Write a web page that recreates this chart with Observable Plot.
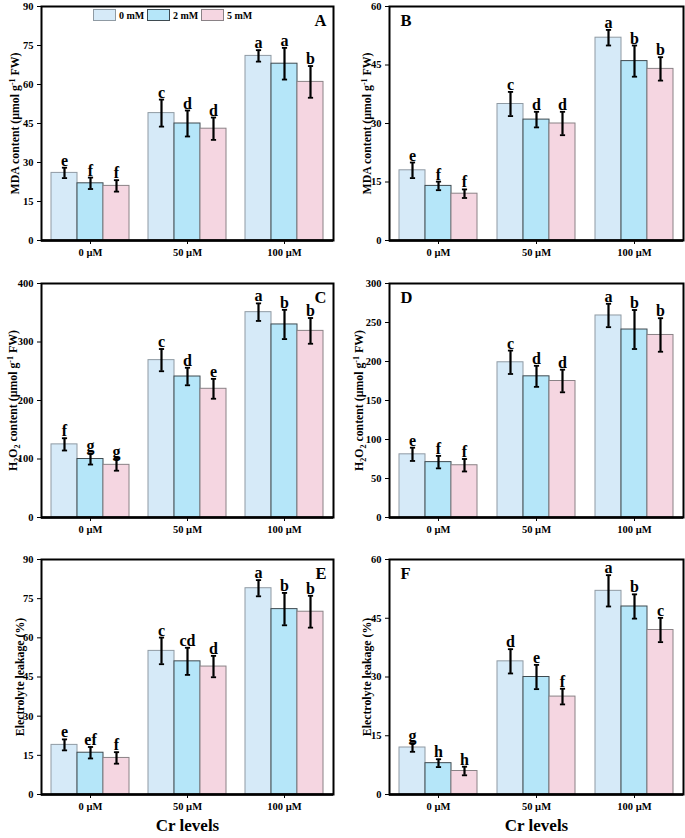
<!DOCTYPE html>
<html>
<head>
<meta charset="utf-8">
<script src="https://cdn.jsdelivr.net/npm/d3@7"></script>
<script src="https://cdn.jsdelivr.net/npm/@observablehq/plot@0.6"></script>
<style>
  html, body { margin: 0; padding: 0; background: #fff; }
  #wrap { position: relative; width: 685px; height: 838px; overflow: hidden; font-family: "Liberation Serif", "Times New Roman", serif; }
  .panel { position: absolute; }
  .legend { position: absolute; left: 93px; top: 9px; display: flex; align-items: center; font-weight: bold; font-size: 10px; line-height: 11px; }
  .legend .sw { width: 21px; height: 10px; border: 1px solid #888; margin-right: 3px; box-sizing: content-box; }
  .legend .it { display: flex; align-items: center; }
  .legend .lb { width: 28px; }
</style>
</head>
<body>
<div id="wrap"></div>
<script>
// ---------- data ----------
const levels = ["0 µM", "50 µM", "100 µM"];
const treatments = ["0 mM", "2 mM", "5 mM"];
const fills = ["#d6eaf8", "#b5e6f9", "#f5d6e1"];
const strokes = ["#8f9aa3", "#3e4a50", "#8a8286"];

const mdaLeafMean = [26, 22, 21, 49, 45, 43, 71, 68, 61];
const mdaLeafSd = [2, 2.2, 2.2, 5.2, 5, 4.3, 2.2, 6.1, 6.1];
const mdaLeafLetters = ["e", "f", "f", "c", "d", "d", "a", "a", "b"];
const mdaLeafTicks = [0, 15, 30, 45, 60, 75, 90];

const mdaRootMean = [18, 14, 12, 35, 31, 30, 52, 46, 44];
const mdaRootSd = [2, 1.1, 1.1, 3.1, 2, 3, 2, 4, 3];
const mdaRootLetters = ["e", "f", "f", "c", "d", "d", "a", "b", "b"];
const mdaRootTicks = [0, 15, 30, 45, 60];

const h2o2LeafMean = [125, 100, 90, 269, 241, 220, 351, 330, 319];
const h2o2LeafSd = [10.5, 9.5, 10, 19, 15, 17, 15, 25, 22];
const h2o2LeafLetters = ["f", "g", "g", "c", "d", "e", "a", "b", "b"];
const h2o2LeafTicks = [0, 100, 200, 300, 400];

const h2o2RootMean = [81, 71, 67, 199, 181, 175, 259, 241, 234];
const h2o2RootSd = [8.5, 8, 8, 15, 13.5, 14.5, 15, 25, 21.5];
const h2o2RootLetters = ["e", "f", "f", "c", "d", "d", "a", "b", "b"];
const h2o2RootTicks = [0, 50, 100, 150, 200, 250, 300];

const elLeafMean = [19, 16, 14, 55, 51, 49, 79, 71, 70];
const elLeafSd = [2.1, 2.2, 2.2, 5.1, 5.2, 4.1, 3.1, 6.2, 6.1];
const elLeafLetters = ["e", "ef", "f", "c", "cd", "d", "a", "b", "b"];
const elLeafTicks = [0, 15, 30, 45, 60, 75, 90];

const elRootMean = [12, 8, 6, 34, 30, 25, 52, 48, 42];
const elRootSd = [1.1, 1, 1.1, 3.1, 3.1, 2, 4, 3.1, 3.1];
const elRootLetters = ["g", "h", "h", "d", "e", "f", "a", "b", "c"];
const elRootTicks = [0, 15, 30, 45, 60];

const mdaLabel = "MDA content (µmol g^{-1} FW)";
const h2o2Label = "H_{2}O_{2} content (µmol g^{-1} FW)";
const elLabel = "Electrolyte leakage (%)";
const xTitle = "Cr levels";

// ---------- helpers ----------
function plain(markup) { return markup.replace(/[\^_]\{([^}]*)\}/g, "$1"); }

function richify(svg, markup) {
  const txt = plain(markup);
  const NS = "http://www.w3.org/2000/svg";
  svg.querySelectorAll("text").forEach(t => {
    if (t.textContent !== txt) return;
    while (t.firstChild) t.removeChild(t.firstChild);
    const re = /([\^_])\{([^}]*)\}|([^\^_]+)/g;
    let m, pending = 0;
    while ((m = re.exec(markup))) {
      const ts = document.createElementNS(NS, "tspan");
      if (m[3]) {
        ts.textContent = m[3];
        if (pending) ts.setAttribute("dy", String(pending));
        pending = 0;
      } else {
        const shift = m[1] === "^" ? -4.5 : 3;
        ts.textContent = m[2];
        ts.setAttribute("font-size", "8");
        ts.setAttribute("dy", String(shift + pending));
        pending = -shift;
      }
      t.appendChild(ts);
    }
  });
}

const capSymbol = {
  draw(ctx, size) {
    const w = Math.sqrt(size / Math.PI);
    ctx.moveTo(-w, 0);
    ctx.lineTo(w, 0);
  }
};

function panel(o) {
  const data = levels.flatMap((l, i) => treatments.map((t, j) => ({
    level: l, treat: t, j,
    mean: o.mean[i * 3 + j], sd: o.sd[i * 3 + j], letter: o.letters[i * 3 + j]
  })));
  const BW = 26;
  const marks = [];
  treatments.forEach((t, j) => {
    const sub = data.filter(d => d.j === j);
    const off = (j - 1) * BW;
    marks.push(Plot.barY(sub, {x: "level", y: "mean", fill: fills[j], stroke: strokes[j], strokeWidth: 1,
      insetLeft: j * BW, insetRight: (2 - j) * BW}));
    marks.push(Plot.ruleX(sub, {x: "level", y1: d => d.mean - d.sd, y2: d => d.mean + d.sd, dx: off, stroke: "black", strokeWidth: 2.2}));
    marks.push(Plot.dot(sub, {x: "level", y: d => d.mean + d.sd, dx: off, symbol: capSymbol, r: 2.6, fill: "none", stroke: "black", strokeWidth: 1.8}));
    marks.push(Plot.dot(sub, {x: "level", y: d => d.mean - d.sd, dx: off, symbol: capSymbol, r: 2.6, fill: "none", stroke: "black", strokeWidth: 1.8}));
    marks.push(Plot.text(sub, {x: "level", y: d => d.mean + d.sd, text: "letter", dx: off, dy: -2, lineAnchor: "bottom",
      fontSize: 16, fontWeight: "bold", fill: "black"}));
  });
  marks.push(Plot.frame({stroke: "black", strokeWidth: 2}));
  marks.push(Plot.ruleY([0], {stroke: "black", strokeWidth: 2.5}));
  marks.push(Plot.text([plain(o.ylabel)], {text: d => d, frameAnchor: "left", rotate: -90, dx: -o.labelOffset,
    textAnchor: "middle", lineAnchor: "middle", fontSize: 11.8, fontWeight: "bold", fill: "black"}));
  marks.push(Plot.text([o.tag], {text: d => d, frameAnchor: o.tagAnchor, dx: o.tagAnchor === "top-right" ? -7 : 11,
    dy: 8, lineAnchor: "top", textAnchor: o.tagAnchor === "top-right" ? "end" : "start",
    fontSize: 16.5, fontWeight: "bold", fill: "black"}));
  if (o.xlabel) {
    marks.push(Plot.text([o.xlabel], {text: d => d, frameAnchor: "bottom", dy: 31, lineAnchor: "middle",
      fontSize: 17, fontWeight: "bold", fill: "black"}));
  }
  const svg = Plot.plot({
    width: o.width, height: o.height,
    marginLeft: o.mL, marginRight: o.mR, marginTop: o.mT, marginBottom: o.mB,
    style: {fontFamily: "'Liberation Serif', 'Times New Roman', serif", fontWeight: "bold", fontSize: "10.5px", color: "black", background: "transparent", overflow: "visible"},
    x: {domain: levels, paddingInner: 0.2, paddingOuter: 0.1, label: null, tickSize: 4, tickPadding: 4},
    y: {domain: [0, o.ticks[o.ticks.length - 1]], ticks: o.ticks, label: null, tickSize: 4, tickPadding: 4, tickFormat: d => String(d)},
    marks
  });
  richify(svg, o.ylabel);
  const div = document.createElement("div");
  div.className = "panel";
  div.style.left = o.left + "px";
  div.style.top = o.top + "px";
  div.appendChild(svg);
  document.getElementById("wrap").appendChild(div);
}

const colA = {left: 0, width: 340, mL: 41, mR: 7};
const colB = {left: 340, width: 345, mL: 49, mR: 2};
const row1 = {top: 0, height: 265, mT: 6, mB: 25};
const row2 = {top: 265, height: 275, mT: 18, mB: 23};
const row3 = {top: 540, height: 298, mT: 19, mB: 44};

panel({...colA, ...row1, mean: mdaLeafMean, sd: mdaLeafSd, letters: mdaLeafLetters, ticks: mdaLeafTicks, ylabel: mdaLabel, labelOffset: 26, tag: "A", tagAnchor: "top-right"});
panel({...colB, ...row1, mean: mdaRootMean, sd: mdaRootSd, letters: mdaRootLetters, ticks: mdaRootTicks, ylabel: mdaLabel, labelOffset: 22, tag: "B", tagAnchor: "top-left"});
panel({...colA, ...row2, mean: h2o2LeafMean, sd: h2o2LeafSd, letters: h2o2LeafLetters, ticks: h2o2LeafTicks, ylabel: h2o2Label, labelOffset: 28, tag: "C", tagAnchor: "top-right"});
panel({...colB, ...row2, mean: h2o2RootMean, sd: h2o2RootSd, letters: h2o2RootLetters, ticks: h2o2RootTicks, ylabel: h2o2Label, labelOffset: 30, tag: "D", tagAnchor: "top-left"});
panel({...colA, ...row3, mean: elLeafMean, sd: elLeafSd, letters: elLeafLetters, ticks: elLeafTicks, ylabel: elLabel, labelOffset: 21, tag: "E", tagAnchor: "top-right", xlabel: xTitle});
panel({...colB, ...row3, mean: elRootMean, sd: elRootSd, letters: elRootLetters, ticks: elRootTicks, ylabel: elLabel, labelOffset: 22, tag: "F", tagAnchor: "top-left", xlabel: xTitle});

// legend (inside panel A)
const leg = document.createElement("div");
leg.className = "legend";
treatments.forEach((t, j) => {
  const it = document.createElement("div");
  it.className = "it";
  const sw = document.createElement("div");
  sw.className = "sw";
  sw.style.background = fills[j];
  sw.style.borderColor = strokes[j];
  const lb = document.createElement("span");
  lb.className = "lb";
  lb.textContent = t;
  it.appendChild(sw); it.appendChild(lb);
  leg.appendChild(it);
});
document.getElementById("wrap").appendChild(leg);
</script>
</body>
</html>
